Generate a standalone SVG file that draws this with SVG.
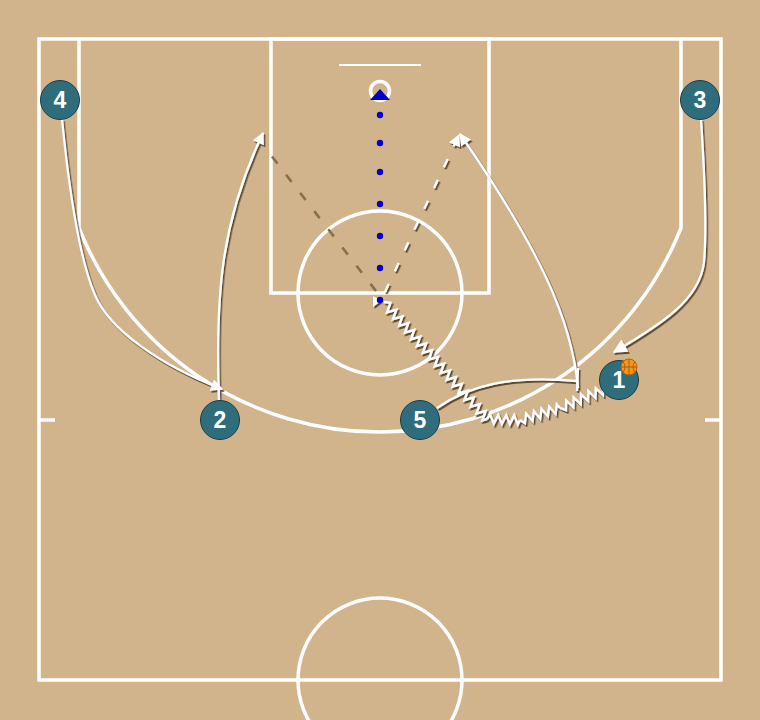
<svg xmlns="http://www.w3.org/2000/svg" width="760" height="720" viewBox="0 0 760 720">
<defs>
<style>
.court{fill:none;stroke:#fff;stroke-width:3.5}
.mv{fill:none;stroke:#fff;stroke-width:2.3}
.zz{fill:none;stroke:#fff;stroke-width:2.4;stroke-linejoin:miter}
.pl circle{fill:#2F6C7C;stroke:#1c3d47;stroke-width:1}
.pl text{fill:#fff;font-family:"Liberation Sans",Arial,sans-serif;font-weight:bold;font-size:23px;text-anchor:middle}
.dot{fill:#0000CC}
</style>
<filter id="sh" x="-20%" y="-20%" width="140%" height="140%">
<feDropShadow dx="1.5" dy="2" stdDeviation="0.6" flood-color="#4a3826" flood-opacity="0.85"/>
</filter>
<marker id="ah" viewBox="0 0 10 10" refX="9" refY="5" markerWidth="14" markerHeight="12" markerUnits="userSpaceOnUse" orient="auto">
<path d="M0,0 L10,5 L0,10 z" fill="#fff"/>
</marker>
<marker id="ahb" viewBox="0 0 10 10" refX="9" refY="5" markerWidth="16" markerHeight="14" markerUnits="userSpaceOnUse" orient="auto">
<path d="M0,0 L10,5 L0,10 z" fill="#fff"/>
</marker>
</defs>
<rect width="760" height="720" fill="#D2B48C"/>
<g id="court">
<rect class="court" x="39" y="39" width="682" height="641"/>
<rect class="court" x="271" y="39" width="218" height="254"/>
<circle class="court" cx="380" cy="293" r="82"/>
<circle class="court" cx="380" cy="680" r="82"/>
<path class="court" d="M79,39 L79,228 A324,324 0 0 0 681,228 L681,39"/>
<line class="court" x1="39" y1="420" x2="55" y2="420"/>
<line class="court" x1="705" y1="420" x2="721" y2="420"/>
<line x1="339" y1="65" x2="421" y2="65" stroke="#fff" stroke-width="2"/>
<circle cx="380" cy="91" r="9.5" fill="none" stroke="#fff" stroke-width="3.5"/>
</g>
<g id="connectors">
<line x1="376" y1="291" x2="260" y2="141" stroke="#85704f" stroke-width="2.6" stroke-dasharray="9 14"/>
<g filter="url(#sh)">
<path class="mv" d="M62,119 C70,200 80,260 95,295 S160,365 222,389" marker-end="url(#ah)"/>
<path class="mv" d="M219,400 C215,290 222,220 263,133" marker-end="url(#ah)"/>
<path class="mv" d="M701,119 C705,180 707,230 704,262 C700,300 660,325 614,352" marker-end="url(#ahb)"/>
<path class="mv" d="M437,408 C470,385 510,375 577,381"/>
<line class="mv" x1="578" y1="368" x2="577" y2="391"/>
<path class="mv" d="M578,388 C572,320 540,250 460,134" marker-end="url(#ah)"/>
<line class="mv" x1="385" y1="292" x2="459" y2="135" stroke-width="2.6" stroke-dasharray="9 14" marker-end="url(#ah)"/>
<g class="zz">
<polyline transform="translate(603,390) rotate(157.3)" points="0,0 2,-4.5 6,4.5 10,-4.5 14,4.5 18,-4.5 22,4.5 26,-4.5 30,4.5 34,-4.5 38,4.5 42,-4.5 46.6,0"/>
<polyline transform="translate(560,408) rotate(163.3)" points="0,0 2,4.5 6,-4.5 10,4.5 14,-4.5 18,4.5 22,-4.5 26,4.5 30,-4.5 34,4.5 38,-4.5 41.8,0"/>
<polyline transform="translate(520,420) rotate(181.7)" points="0,0 2,-4.5 6,4.5 10,-4.5 14,4.5 18,-4.5 22,4.5 26,-4.5 30,4.5 33,0"/>
<polyline transform="translate(487,419) rotate(228.6)" points="0,0 2,-4.5 7,4.5 11,-4.5 16,4.5 20,-4.5 25,4.5 29,-4.5 34,4.5 38,-4.5 43,4.5 47,-4.5 52,4.5 56,-4.5 61,4.5 65,-4.5 70,4.5 74,-4.5 79,4.5 83,-4.5 88,4.5 92,-4.5 97,4.5 101,-4.5 106,4.5 110,-4.5 115,4.5 119,-4.5 124,4.5 128,-4.5 133,4.5 137,-4.5 142,4.5 146,-4.5 151,4.5 156,0"/>
</g>
<polygon points="373,296 373,307 381,301" fill="#fff"/>
</g>
<g id="shot">
<polygon points="370,100 390,100 380,89" fill="#0000CC"/>
<circle class="dot" cx="380" cy="115" r="3.2"/>
<circle class="dot" cx="380" cy="143" r="3.2"/>
<circle class="dot" cx="380" cy="172" r="3.2"/>
<circle class="dot" cx="380" cy="204" r="3.2"/>
<circle class="dot" cx="380" cy="236" r="3.2"/>
<circle class="dot" cx="380" cy="268" r="3.2"/>
<circle class="dot" cx="380" cy="300" r="3.2"/>
</g>
</g>
<g id="p4" class="pl"><circle cx="60" cy="100" r="19.5"/><text x="60" y="108">4</text></g>
<g id="p3" class="pl"><circle cx="700" cy="100" r="19.5"/><text x="700" y="108">3</text></g>
<g id="p2" class="pl"><circle cx="220" cy="420" r="19.5"/><text x="220" y="428">2</text></g>
<g id="p5" class="pl"><circle cx="420" cy="420" r="19.5"/><text x="420" y="428">5</text></g>
<g id="p1" class="pl"><circle cx="619" cy="380" r="19.5"/><text x="619" y="388">1</text></g>
<g id="ball">
<circle cx="629" cy="367" r="8" fill="#F7941D" stroke="#B86400" stroke-width="1"/>
<path d="M621,367 H637 M629,359 V375 M623,361.5 Q627,367 623,372.5 M635,361.5 Q631,367 635,372.5" fill="none" stroke="#A85A00" stroke-width="0.9"/>
</g>
</svg>
